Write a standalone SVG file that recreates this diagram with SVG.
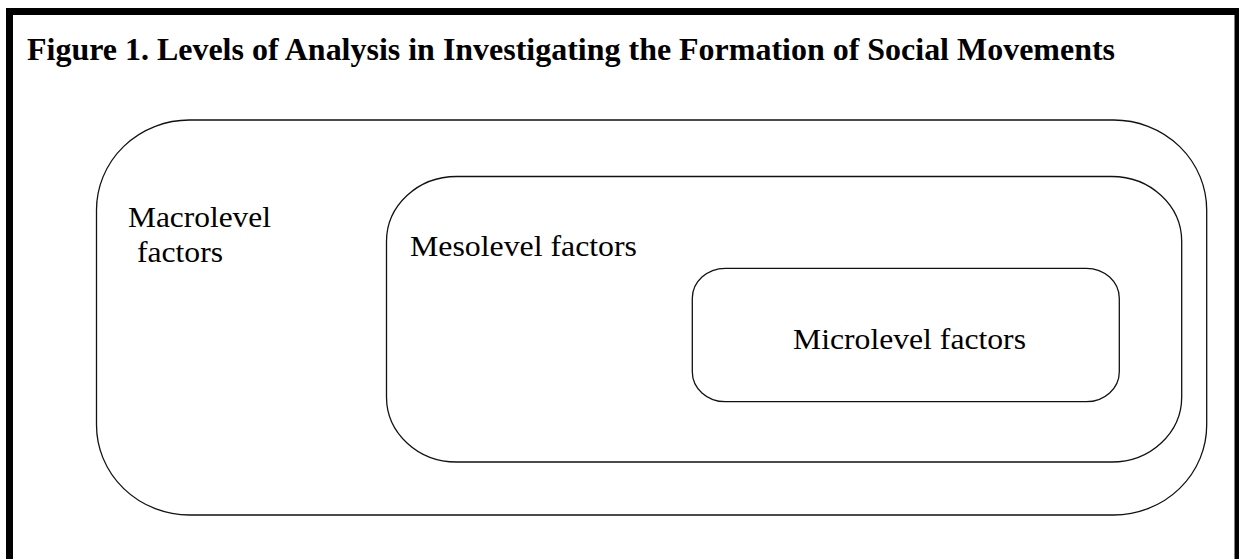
<svg xmlns="http://www.w3.org/2000/svg" width="1239" height="559" viewBox="0 0 1239 559">
<style>
.lvl{fill:none;stroke:#111;stroke-width:1.3}
.lbl{font-family:"Liberation Serif","Times New Roman",serif;font-size:30px;fill:#000}
.title{font-family:"Liberation Serif","Times New Roman",serif;font-size:32px;font-weight:bold;fill:#000}
</style>
<rect x="0" y="0" width="1239" height="559" fill="#fff"/>
<rect x="9.5" y="11.5" width="1228.5" height="560" fill="none" stroke="#000" stroke-width="7"/>
<text class="title" x="27" y="60" textLength="1088" lengthAdjust="spacingAndGlyphs">Figure 1. Levels of Analysis in Investigating the Formation of Social Movements</text>
<g id="macro">
<rect class="lvl" x="96.5" y="120" width="1110.2" height="395" rx="93" ry="90"/>
<text class="lbl" x="128" y="227" textLength="143" lengthAdjust="spacingAndGlyphs">Macrolevel</text>
<text class="lbl" x="137" y="262" textLength="86" lengthAdjust="spacingAndGlyphs">factors</text>
</g>
<g id="meso">
<rect class="lvl" x="386.5" y="176.5" width="795.2" height="285.5" rx="70" ry="65"/>
<text class="lbl" x="410" y="256" textLength="227" lengthAdjust="spacingAndGlyphs">Mesolevel factors</text>
</g>
<g id="micro">
<rect class="lvl" x="692.3" y="268.3" width="427" height="133.4" rx="33" ry="30"/>
<text class="lbl" x="793" y="349" textLength="233" lengthAdjust="spacingAndGlyphs">Microlevel factors</text>
</g>
<g id="connectors"/>
</svg>
